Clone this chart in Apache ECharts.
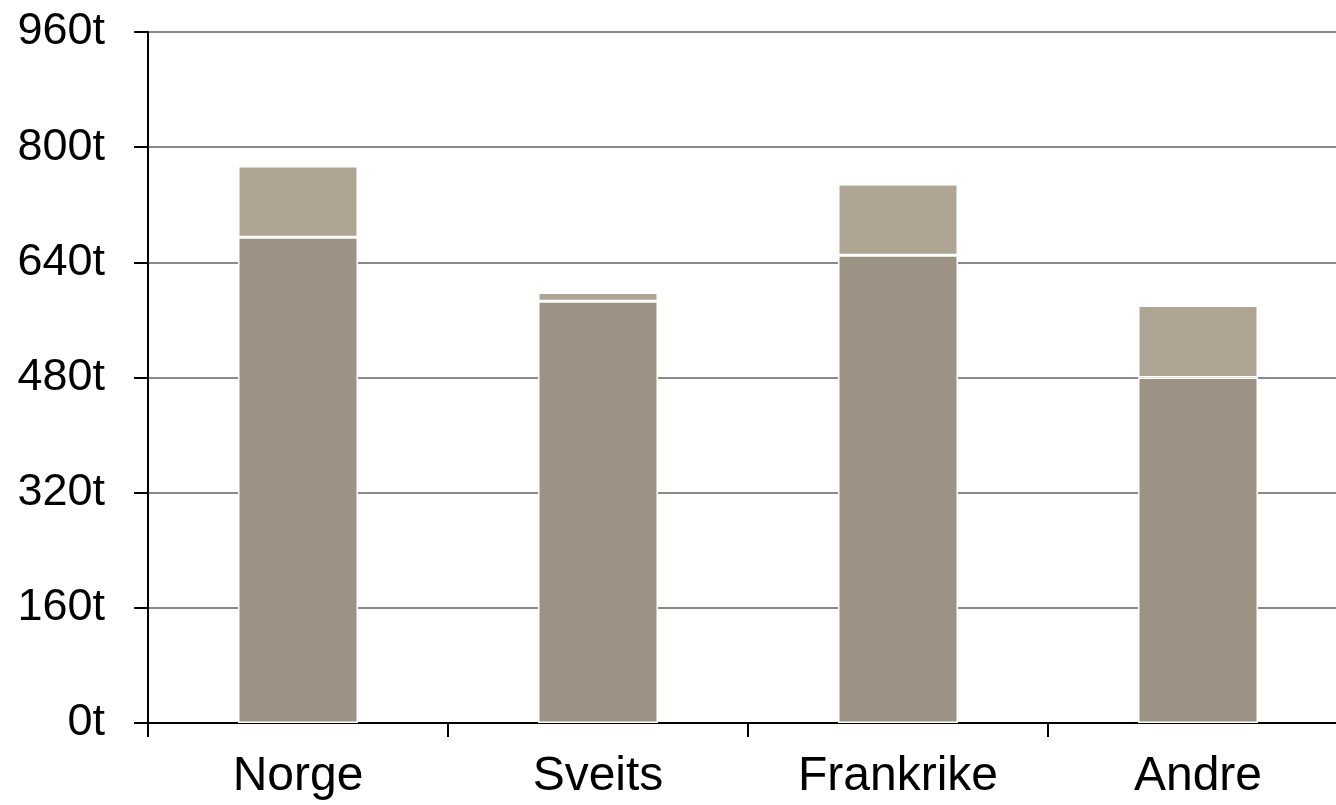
<!DOCTYPE html>
<html>
<head>
<meta charset="utf-8">
<script src="https://cdn.jsdelivr.net/npm/echarts@6/dist/echarts.min.js"></script>
<style>
  html, body { margin: 0; padding: 0; background: #fff; overflow: hidden; }
  #chart { width: 1348px; height: 805px; }
</style>
</head>
<body>
<div id="chart"></div>
<script>
// Categories and stacked values (tonnes)
const categories = ['Norge', 'Sveits', 'Frankrike', 'Andre'];
const baseValues = [675, 586, 650, 480];
const topValues = [99, 12, 99, 100];
const yTicks = [0, 160, 320, 480, 640, 800, 960];

const FONT = '"Liberation Sans", Arial, sans-serif';

const chart = echarts.init(document.getElementById('chart'), null, { renderer: 'canvas' });

chart.setOption({
  animation: false,
  backgroundColor: '#ffffff',
  grid: { left: 148, right: 0, top: 32, bottom: 82, containLabel: false },
  xAxis: {
    type: 'category',
    data: categories,
    boundaryGap: true,
    axisLine: { show: true, lineStyle: { color: '#000', width: 2 } },
    axisTick: { show: true, length: 14, lineStyle: { color: '#000', width: 2 } },
    axisLabel: { color: '#000', fontSize: 48, fontFamily: FONT, margin: 30 }
  },
  yAxis: {
    type: 'value',
    min: yTicks[0],
    max: yTicks[yTicks.length - 1],
    interval: yTicks[1] - yTicks[0],
    axisLine: { show: true, lineStyle: { color: '#000', width: 2 } },
    axisTick: { show: true, length: 14, lineStyle: { color: '#000', width: 2 } },
    axisLabel: {
      color: '#000', fontSize: 45, fontFamily: FONT, margin: 43,
      formatter: v => v + 't'
    },
    splitLine: { show: true, lineStyle: { color: '#8a8a8a', width: 2 } }
  },
  series: [
    {
      type: 'bar',
      stack: 'total',
      data: baseValues,
      barWidth: '40%',
      itemStyle: { color: '#9c9283', borderColor: '#ffffff', borderWidth: 1.5 }
    },
    {
      type: 'bar',
      stack: 'total',
      data: topValues,
      barWidth: '40%',
      itemStyle: { color: '#aea594', borderColor: '#ffffff', borderWidth: 1.5 }
    }
  ]
});
</script>
</body>
</html>
